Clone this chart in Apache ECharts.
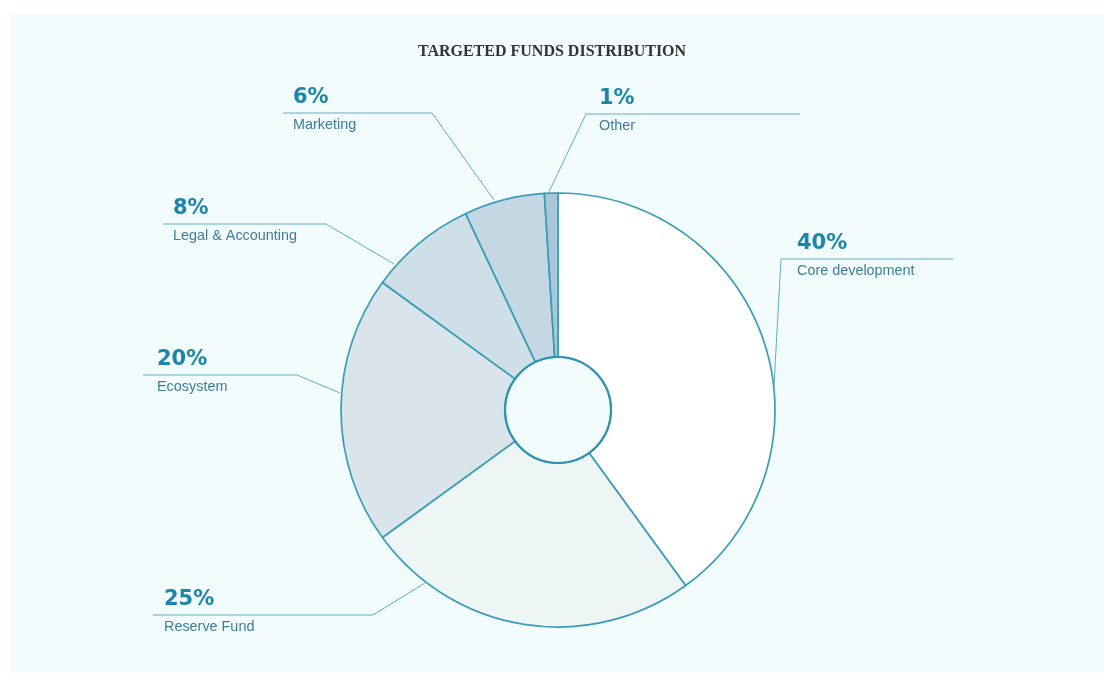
<!DOCTYPE html>
<html>
<head>
<meta charset="utf-8">
<style>
html,body{margin:0;padding:0;background:#ffffff;}
#chart{width:1104px;height:673px;}
</style>
<script src="https://cdn.jsdelivr.net/npm/echarts@6/dist/echarts.min.js"></script>
</head>
<body>
<div id="chart"></div>
<script>
// Data
const categories = ['Core development', 'Reserve Fund', 'Ecosystem', 'Legal & Accounting', 'Marketing', 'Other'];
const values = [40, 25, 20, 8, 6, 1];
const sliceColors = ['#ffffff', '#eef5f5', '#dae5eb', '#cfdfe7', '#c3d8e2', '#a9c7d6'];

// Label layout offsets relative to pie centre: [startX,startY, bendX,bendY, endX,endY, textX]
const labelGeom = [
  [216, -25, 223, -151, 395, -151, 239],
  [-133, 173, -185, 205, -405, 205, -394],
  [-218, -17, -261, -35, -415, -35, -401],
  [-164, -146, -232, -186, -395, -186, -385],
  [-64, -210, -126, -297, -275, -297, -265],
  [-10, -216, 28, -296, 242, -296, 41]
];

const CX = 558, CY = 410, R_IN = 53, R_OUT = 217;
const chart = echarts.init(document.getElementById('chart'), null, {renderer: 'canvas'});

const option = {
  backgroundColor: '#ffffff',
  animation: false,
  graphic: [{
    type: 'rect', z: -10, silent: true,
    shape: {x: 11, y: 14, width: 1093, height: 659},
    style: {fill: '#f3fcfd'}
  }, {
    type: 'circle', z: 100, silent: true,
    shape: {cx: CX, cy: CY, r: R_IN},
    style: {fill: 'none', stroke: '#2e93ad', lineWidth: 2.2}
  }],
  title: {
    text: 'TARGETED FUNDS DISTRIBUTION',
    left: 'center',
    top: 39,
    textStyle: {fontFamily: 'Liberation Serif', fontWeight: 'bold', fontSize: 16, color: '#333333'}
  },
  series: [{
    type: 'pie',
    center: [CX, CY],
    radius: [R_IN, R_OUT],
    startAngle: 90,
    clockwise: true,
    avoidLabelOverlap: false,
    itemStyle: {borderColor: '#3b9cb8', borderWidth: 1.7},
    emphasis: {disabled: true},
    data: categories.map((c, i) => ({
      name: c, value: values[i], itemStyle: {color: sliceColors[i]}
    })),
    label: {
      show: true,
      position: 'outside',
      formatter: p => '{p|' + p.value + '%}\n{n|' + p.name + '}',
      rich: {
        p: {fontFamily: 'DejaVu Sans', fontWeight: 'bold', fontSize: 21, color: '#1b86ab', lineHeight: 30},
        n: {fontFamily: 'Liberation Sans', fontSize: 14.4, color: '#3d7d96', lineHeight: 24}
      }
    },
    labelLine: {show: true, lineStyle: {color: '#5eaec5', width: 1}},
    labelLayout: function (params) {
      const g = labelGeom[params.dataIndex];
      const lineY = CY + g[3];
      return {
        x: CX + g[6],
        y: lineY - 3,
        align: 'left',
        verticalAlign: 'middle',
        labelLinePoints: [
          [CX + g[0], CY + g[1]],
          [CX + g[2], CY + g[3]],
          [CX + g[4], CY + g[5]]
        ]
      };
    }
  }]
};
chart.setOption(option);
</script>
</body>
</html>
